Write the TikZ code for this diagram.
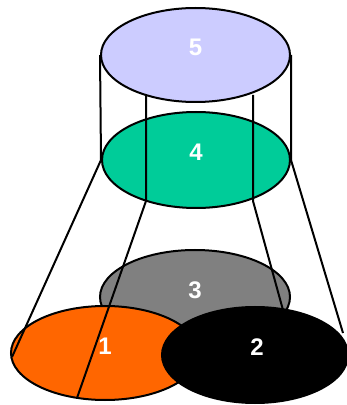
\documentclass[tikz,border=0pt]{standalone}
\usepackage{fontspec}
\setmainfont{Liberation Sans}
\usetikzlibrary{shapes.geometric}
\definecolor{lav}{HTML}{CCCCFF}
\definecolor{teal4}{HTML}{00CC99}
\definecolor{gray3}{HTML}{808080}
\definecolor{orange1}{HTML}{FF6600}
\tikzset{
  ell/.style={ellipse, draw=black, line width=2pt, inner sep=0pt},
  lbl/.style={text=white, font=\bfseries\fontsize{24}{24}\selectfont, inner sep=0pt},
  conn/.style={draw=black, line width=2pt, line join=round}
}
\begin{document}
\begin{tikzpicture}[x=1pt,y=1pt]
\useasboundingbox (0,0) rectangle (347,405);
\node[ell, fill=lav, minimum width=189pt, minimum height=94pt] (e5) at (195.5,350) {};
\node[ell, fill=teal4, minimum width=188pt, minimum height=96pt] (e4) at (196,245) {};
\node[ell, fill=gray3, minimum width=190pt, minimum height=94pt] (e3) at (195,108) {};
\node[ell, fill=orange1, minimum width=188pt, minimum height=94pt] (e1) at (105,52) {};
% connector points
\coordinate (a1) at (e5.west);
\coordinate (a2) at (e4.west);
\coordinate (a3) at (12,48);
\coordinate (b1) at (e5.east);
\coordinate (b2) at (e4.east);
\coordinate (b3) at (343,72);
\coordinate (c1) at (146,310);
\coordinate (c2) at (146,204);
\coordinate (c3) at (77,7);
\coordinate (d1) at (253,310);
\coordinate (d2) at (253,204);
\coordinate (d3) at (283,95);
\draw[conn] (a1) -- (a2) -- (a3);
\draw[conn] (b1) -- (b2) -- (b3);
\draw[conn] (c1) -- (c2) -- (c3);
\draw[conn] (d1) -- (d2) -- (d3);
\node[ell, fill=black, minimum width=186pt, minimum height=96pt] (e2) at (255,50) {};
\node[lbl] (t5) at ([yshift=8pt]e5.center) {5};
\node[lbl] (t4) at ([yshift=8pt]e4.center) {4};
\node[lbl] (t3) at ([yshift=7pt]e3.center) {3};
\node[lbl] (t1) at ([yshift=7pt]e1.center) {1};
\node[lbl] (t2) at ([xshift=2pt,yshift=8pt]e2.center) {2};
\end{tikzpicture}
\end{document}
